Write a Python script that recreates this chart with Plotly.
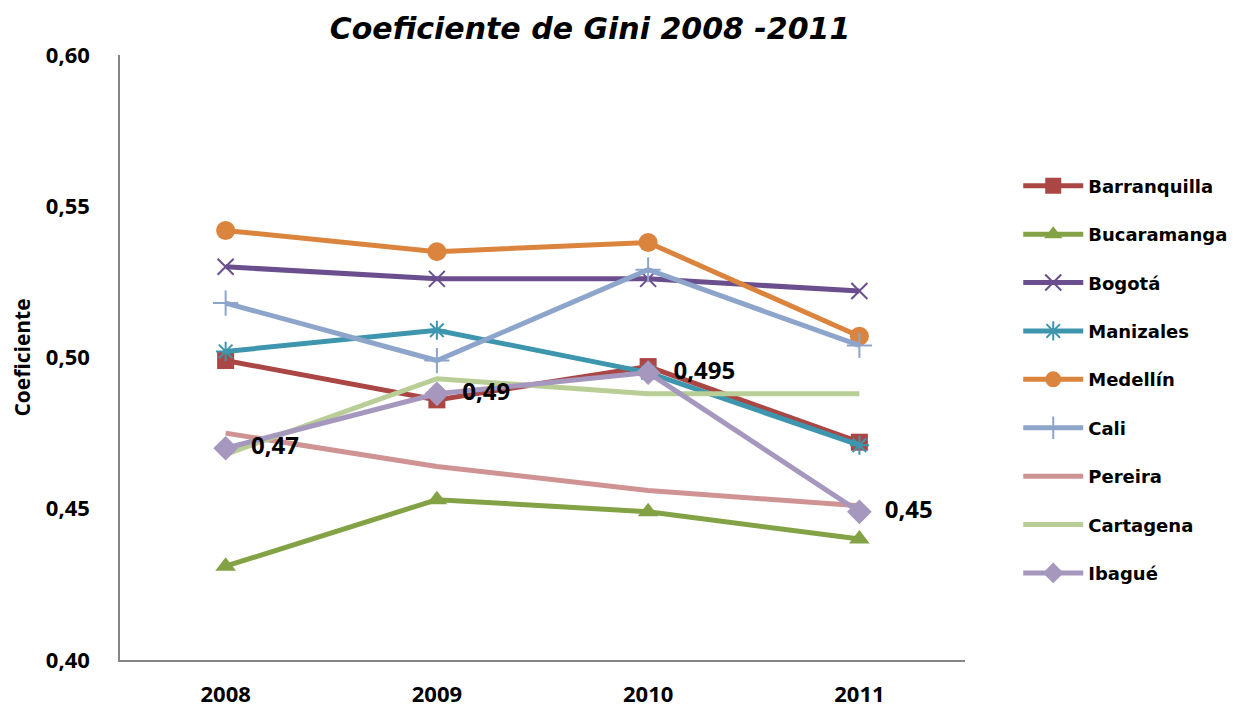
import plotly.graph_objects as go

years = ["2008", "2009", "2010", "2011"]
barranquilla = [0.499, 0.486, 0.497, 0.472]
bucaramanga = [0.431, 0.453, 0.449, 0.440]
bogota = [0.530, 0.526, 0.526, 0.522]
manizales = [0.502, 0.509, 0.495, 0.471]
medellin = [0.542, 0.535, 0.538, 0.507]
cali = [0.518, 0.499, 0.529, 0.504]
pereira = [0.475, 0.464, 0.456, 0.451]
cartagena = [0.468, 0.493, 0.488, 0.488]
ibague = [0.470, 0.488, 0.495, 0.449]
ibague_labels = ["0,47", "0,49", "0,495", "0,45"]
y_ticks = [0.40, 0.45, 0.50, 0.55, 0.60]
y_ticktext = ["0,40", "0,45", "0,50", "0,55", "0,60"]

FONT = "Open Sans"
LEGFONT = "DejaVu Sans"

series = [
    ("Barranquilla", barranquilla, "#AA4643", "square", 17, 0),
    ("Bucaramanga", bucaramanga, "#83A245", "triangle-up", 18, 0),
    ("Bogotá", bogota, "#6A4E8E", "x-thin", 16, 2),
    ("Manizales", manizales, "#3D96AE", "asterisk", 16, 2),
    ("Medellín", medellin, "#DB843D", "circle", 19, 0),
    ("Cali", cali, "#8EA5CB", "cross-thin", 18, 2),
    ("Pereira", pereira, "#D09393", None, 0, 0),
    ("Cartagena", cartagena, "#B9CD96", None, 0, 0),
    ("Ibagué", ibague, "#A597BD", "diamond", 19, 0),
]

fig = go.Figure()
for i, (name, vals, color, sym, size, lw) in enumerate(series):
    kw = {}
    if sym:
        mode = "lines+markers"
        kw["marker"] = dict(symbol=sym, size=size, color=color,
                            line=dict(color=color, width=lw))
    else:
        mode = "lines"
    if name == "Ibagué":
        mode = "lines+markers+text"
        kw["text"] = ["  " + t for t in ibague_labels]
        kw["textposition"] = "middle right"
        kw["textfont"] = dict(family=FONT, size=24, color="black", weight="bold")
    fig.add_trace(go.Scatter(
        x=years, y=vals, name=name, mode=mode,
        line=dict(color=color, width=5),
        legendgroup=name, cliponaxis=False, **kw))

# page body adds an 8px offset, so the figure is 1235x699 inside a 1243x707 window
fig.update_layout(
    width=1235, height=699,
    paper_bgcolor="white", plot_bgcolor="white",
    margin=dict(l=112, r=278, t=47, b=47, autoexpand=False),
    font=dict(family=FONT, color="black"),
    title=dict(text="<b><i>Coeficiente de Gini 2008 -2011</i></b>",
               font=dict(family=LEGFONT, size=30, color="black"),
               x=582 / 1235, xanchor="center", xref="container",
               y=1 - 20 / 699, yanchor="middle", yref="container"),
    legend=dict(x=1.063, xanchor="left", y=0.814, yanchor="top",
                font=dict(family=LEGFONT, size=18, color="black", weight="bold"),
                tracegroupgap=22, itemwidth=60,
                bgcolor="rgba(0,0,0,0)"),
    showlegend=True,
)
fig.update_xaxes(
    type="category", range=[-0.5, 3.5], automargin=False,
    showline=True, linecolor="#868686", linewidth=1.5,
    showgrid=False, ticks="", zeroline=False,
    tickfont=dict(family=FONT, size=22, color="black", weight="bold"),
    ticklabelstandoff=14,
)
fig.update_yaxes(
    range=[0.40, 0.60], tickvals=y_ticks, ticktext=y_ticktext, automargin=False,
    showline=True, linecolor="#868686", linewidth=1.5,
    showgrid=False, ticks="", zeroline=False,
    tickfont=dict(family=FONT, size=22, color="black", weight="bold"),
    ticklabelstandoff=24,
    title=dict(text="<b>Coeficiente</b>", font=dict(family=FONT, size=21, color="black"),
               standoff=18),
)
fig.write_html("out.html")
